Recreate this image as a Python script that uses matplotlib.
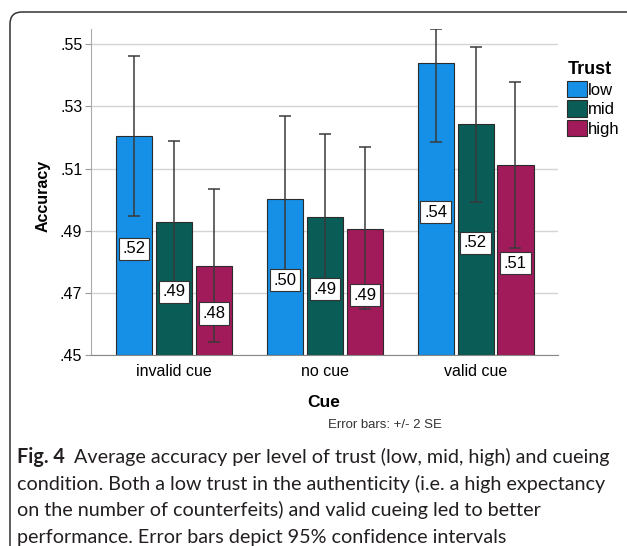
import matplotlib
matplotlib.use("Agg")
import matplotlib.pyplot as plt
import numpy as np
from matplotlib.patches import FancyBboxPatch
from matplotlib.transforms import IdentityTransform

plt.rcParams['font.family'] = ['Liberation Sans', 'DejaVu Sans']

cues = ['invalid cue', 'no cue', 'valid cue']
trust = ['low', 'mid', 'high']
colors = ['#168fe6', '#0a5c56', '#a11a5a']

# mean accuracy per trust level, one entry per cue condition
acc_low = [0.5205, 0.5003, 0.5440]
acc_mid = [0.4929, 0.4946, 0.5243]
acc_high = [0.4788, 0.4907, 0.5112]

# error bar ends (+/- 2 SE)
hi_low = [0.5462, 0.5270, 0.5549]
hi_mid = [0.5189, 0.5211, 0.5492]
hi_high = [0.5035, 0.5170, 0.5378]
lo_low = [0.4948, 0.4736, 0.5185]
lo_mid = [0.4667, 0.4678, 0.4994]
lo_high = [0.4544, 0.4648, 0.4846]

yticks = [0.45, 0.47, 0.49, 0.51, 0.53, 0.55]

caption_lines = [
    "Average accuracy per level of trust (low, mid, high) and cueing",
    "condition. Both a low trust in the authenticity (i.e. a high expectancy",
    "on the number of counterfeits) and valid cueing led to better",
    "performance. Error bars depict 95% confidence intervals",
]

W, H = 627, 546
fig = plt.figure(figsize=(W / 100, H / 100), dpi=100)
ax = fig.add_axes([90.7 / W, 1 - 355.3 / H, (558 - 90.7) / W, (355.3 - 29.3) / H])

means = [acc_low, acc_mid, acc_high]
highs = [hi_low, hi_mid, hi_high]
lows = [lo_low, lo_mid, lo_high]
step = 0.265
width = 0.239
x = np.arange(len(cues))
base = 0.45

handles = []
for j in range(3):
    m = np.array(means[j])
    xs = x + (j - 1) * step
    b = ax.bar(xs, m - base, width, bottom=base, color=colors[j],
               edgecolor='#2b2b2b', linewidth=0.8, zorder=2, label=trust[j])
    handles.append(b)
    ax.errorbar(xs, m, yerr=[m - np.array(lows[j]), np.array(highs[j]) - m],
                fmt='none', ecolor='#3a3a3a', elinewidth=1.1, capsize=4,
                capthick=1.1, zorder=3)
    for xi, v in zip(xs, m):
        ax.text(xi, (v + base) / 2 - 0.001, f"{v:.2f}"[1:], ha='center', va='center',
                fontsize=12, zorder=4,
                bbox=dict(boxstyle='square,pad=0.22', fc='white', ec='#333333', lw=0.8))

ax.set_xlim(-0.553, 2.547)
ax.set_ylim(0.45, 0.5548)
ax.set_yticks(yticks)
ax.set_yticklabels([f"{t:.2f}"[1:] for t in yticks], fontsize=11.5)
ax.set_xticks(x)
ax.set_xticklabels(cues, fontsize=11.5)
ax.tick_params(axis='x', length=0, pad=6)
ax.tick_params(axis='y', length=4, pad=2, color='#999999')
ax.grid(axis='y', color='#d4d4d4', linewidth=1, zorder=0)
ax.set_axisbelow(True)
for s in ['top', 'right']:
    ax.spines[s].set_visible(False)
ax.spines['left'].set_color('#aaaaaa')
ax.spines['bottom'].set_color('#888888')

leg = ax.legend(handles=handles, title='Trust', loc='upper left',
                bbox_to_anchor=(559 / W, 1 - 53 / H), bbox_transform=fig.transFigure,
                frameon=False, fontsize=12, borderpad=0, handlelength=1.15,
                handleheight=1.15, handletextpad=0.1, labelspacing=0.15,
                alignment='left')
leg.get_title().set_fontweight('bold')
leg.get_title().set_fontsize(13)

fig.text(43.3 / W, 1 - 196 / H, 'Accuracy', rotation=90, ha='center', va='center',
         fontsize=11.5, fontweight='bold')
fig.text(324 / W, 1 - 402.7 / H, 'Cue', ha='center', va='center',
         fontsize=12.5, fontweight='bold')
fig.text(385 / W, 1 - 425 / H, 'Error bars: +/- 2 SE', ha='center', va='center',
         fontsize=9.5, color='#333333')

# caption under the chart
cap_font = ['Lato', 'DejaVu Sans']
cap_size = 14.2
baselines = [463.3, 490, 516.3, 542.6]
fig.canvas.draw()
r = fig.canvas.get_renderer()
t = fig.text(17 / W, 1 - baselines[0] / H, 'Fig. 4', fontweight='bold', fontsize=cap_size,
             family=cap_font, color='#231f20', va='baseline')
ext = t.get_window_extent(r)
fig.text((ext.x1 + 9) / W, 1 - baselines[0] / H, caption_lines[0], fontsize=cap_size,
         family=cap_font, color='#231f20', va='baseline')
for line, yb in zip(caption_lines[1:], baselines[1:]):
    fig.text(17 / W, 1 - yb / H, line, fontsize=cap_size, family=cap_font,
             color='#231f20', va='baseline')

# rounded frame round the figure
frame = FancyBboxPatch((10, -20), 660, H - 12 + 20, boxstyle='round,pad=0,rounding_size=12',
                       transform=IdentityTransform(), fill=False, ec='#333333', lw=1.1)
fig.patches.append(frame)

fig.savefig('out.png', dpi=100)
